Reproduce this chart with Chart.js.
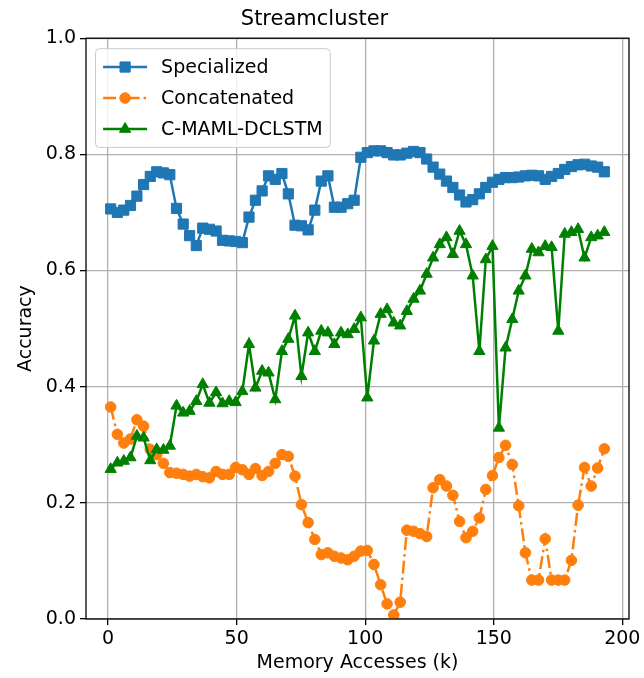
<!DOCTYPE html>
<html><head><meta charset="utf-8">
<script src="https://cdn.jsdelivr.net/npm/chart.js@4.4.0/dist/chart.umd.min.js"></script>
<style>html,body{margin:0;padding:0;background:#fff}#wrap{width:644px;height:678px}</style>
</head><body><div id="wrap"><canvas id="c" width="644" height="678"></canvas></div>
<script>
// ---- data ----
const xValues = [1.0,3.6,6.1,8.7,11.2,13.8,16.4,18.9,21.5,24.0,26.6,29.2,31.7,34.3,36.8,39.4,42.0,44.5,47.1,49.6,
  52.2,54.8,57.3,59.9,62.4,65.0,67.6,70.1,72.7,75.2,77.8,80.4,82.9,85.5,88.0,90.6,93.2,95.7,98.3,100.8,
  103.4,106.0,108.5,111.1,113.6,116.2,118.8,121.3,123.9,126.4,129.0,131.6,134.1,136.7,139.2,141.8,144.4,146.9,149.5,152.0,
  154.6,157.2,159.7,162.3,164.8,167.4,170.0,172.5,175.1,177.6,180.2,182.8,185.3,187.9,190.4,193.0];
const specialized = [0.706,0.700,0.704,0.712,0.728,0.748,0.762,0.770,0.768,0.765,
  0.707,0.680,0.660,0.643,0.673,0.671,0.668,0.652,0.651,0.650,
  0.648,0.692,0.721,0.737,0.763,0.757,0.767,0.732,0.678,0.677,
  0.670,0.704,0.754,0.763,0.709,0.709,0.715,0.721,0.795,0.803,
  0.806,0.806,0.803,0.799,0.799,0.802,0.805,0.803,0.792,0.778,
  0.766,0.754,0.743,0.730,0.718,0.722,0.732,0.743,0.752,0.757,
  0.760,0.760,0.761,0.763,0.764,0.763,0.757,0.762,0.767,0.774,
  0.779,0.782,0.783,0.780,0.778,0.770];
const concatenated = [0.365,0.318,0.303,0.310,0.343,0.332,0.292,0.283,0.268,0.252,
  0.251,0.249,0.246,0.249,0.245,0.243,0.254,0.249,0.249,0.261,
  0.257,0.249,0.259,0.247,0.254,0.268,0.283,0.280,0.246,0.197,
  0.166,0.137,0.111,0.114,0.108,0.105,0.102,0.108,0.117,0.118,
  0.094,0.059,0.026,0.007,0.029,0.153,0.151,0.147,0.142,0.226,
  0.240,0.229,0.213,0.168,0.140,0.151,0.174,0.223,0.247,0.278,
  0.299,0.266,0.195,0.114,0.067,0.067,0.138,0.067,0.067,0.067,
  0.101,0.196,0.261,0.229,0.260,0.293];
const cmamlDclstm = [0.258,0.269,0.272,0.278,0.315,0.312,0.273,0.292,0.291,0.298,
  0.367,0.355,0.358,0.375,0.404,0.372,0.390,0.371,0.375,0.373,
  0.392,0.473,0.398,0.427,0.424,0.378,0.461,0.482,0.522,0.418,
  0.493,0.461,0.496,0.493,0.473,0.493,0.490,0.499,0.519,0.381,
  0.479,0.525,0.533,0.510,0.505,0.530,0.551,0.565,0.594,0.622,
  0.645,0.657,0.628,0.668,0.645,0.591,0.461,0.619,0.642,0.329,
  0.467,0.516,0.565,0.591,0.637,0.631,0.642,0.640,0.496,0.663,
  0.666,0.671,0.622,0.657,0.660,0.666];
const seriesNames = ['Specialized','Concatenated','C-MAML-DCLSTM'];
const xTicks = [0,50,100,150,200];
const yTicks = [0.0,0.2,0.4,0.6,0.8,1.0];
const titleText = 'Streamcluster';
const xLabel = 'Memory Accesses (k)';
const yLabel = 'Accuracy';

// ---- rendering ----
const FONT = 'DejaVu Sans';
Chart.defaults.font.family = FONT;
Chart.defaults.color = '#000';
const toPts = ys => ys.map((y,i)=>({x:xValues[i], y:y}));

const framePlugin = {
  id:'frame',
  afterDatasetsDraw(chart){
    const a = chart.chartArea, ctx = chart.ctx;
    ctx.save();
    ctx.strokeStyle = '#000'; ctx.lineWidth = 1.3;
    ctx.strokeRect(a.left, a.top, a.right - a.left, a.bottom - a.top);
    ctx.restore();
  }
};
const legendPlugin = {
  id:'mplLegend',
  afterDatasetsDraw(chart){
    const ctx = chart.ctx, a = chart.chartArea;
    const fs = 19;
    ctx.save();
    ctx.font = fs + 'px "' + FONT + '"';
    const ds = chart.data.datasets;
    const pad = 0.4*fs, handle = 44, tpad = 14, rowH = 21.5, spacing = 0.5*fs;
    const maxW = Math.max(...ds.map(d => ctx.measureText(d.label).width));
    const x0 = a.left + 0.5*fs, y0 = a.top + 0.5*fs + 1;
    const w = pad*2 + handle + tpad + maxW;
    const h = pad*2 + ds.length*rowH + (ds.length-1)*spacing;
    ctx.beginPath();
    if (ctx.roundRect) ctx.roundRect(x0, y0, w, h, 4); else ctx.rect(x0, y0, w, h);
    ctx.fillStyle = 'rgba(255,255,255,0.8)'; ctx.fill();
    ctx.strokeStyle = '#cccccc'; ctx.lineWidth = 1; ctx.stroke();
    ds.forEach((d,i) => {
      const cy = y0 + pad + rowH/2 + i*(rowH + spacing);
      const lx = x0 + pad;
      ctx.save();
      ctx.strokeStyle = d.borderColor; ctx.lineWidth = d.borderWidth;
      ctx.setLineDash(d.borderDash || []);
      ctx.beginPath(); ctx.moveTo(lx, cy); ctx.lineTo(lx + handle, cy); ctx.stroke();
      ctx.setLineDash([]);
      ctx.fillStyle = d.backgroundColor; ctx.strokeStyle = d.borderColor; ctx.lineWidth = d.pointBorderWidth;
      Chart.helpers.drawPoint(ctx, {pointStyle:d.pointStyle, radius:d.pointRadius, rotation:0, borderWidth:d.pointBorderWidth}, lx + handle/2, cy);
      ctx.restore();
      ctx.fillStyle = '#000'; ctx.textBaseline = 'middle'; ctx.textAlign = 'left';
      ctx.fillText(d.label, lx + handle + tpad, cy + 1);
    });
    ctx.restore();
  }
};

new Chart(document.getElementById('c'), {
  type:'line',
  data:{datasets:[
    {label:seriesNames[0], data:toPts(specialized), borderColor:'#1f77b4', backgroundColor:'#1f77b4',
     pointStyle:'rect', pointRadius:7.2, pointBorderWidth:1, borderWidth:2.5, order:2},
    {label:seriesNames[1], data:toPts(concatenated), borderColor:'#ff7f0e', backgroundColor:'#ff7f0e',
     pointStyle:'circle', pointRadius:5.3, pointBorderWidth:1, borderWidth:2.5, borderDash:[13,4,2.5,4], order:1},
    {label:seriesNames[2], data:toPts(cmamlDclstm), borderColor:'#008000', backgroundColor:'#008000',
     pointStyle:'triangle', pointRadius:6.5, pointBorderWidth:1, borderWidth:2.5, order:0}
  ]},
  options:{
    responsive:false, animation:false, devicePixelRatio:1,
    layout:{padding:{left:0, right:15, top:0, bottom:0}},
    plugins:{
      legend:{display:false}, tooltip:{enabled:false},
      title:{display:true, text:titleText, color:'#000', font:{size:21, weight:'normal'}, padding:{top:7, bottom:6}}
    },
    scales:{
      x:{type:'linear', min:-8.6, max:202.6,
        afterBuildTicks: ax => { ax.ticks = xTicks.map(v => ({value:v})); },
        afterFit: ax => { ax.height = 59; },
        grid:{color:'#b0b0b0', lineWidth:1.3, tickColor:'#000', tickLength:6, tickWidth:1.3},
        border:{display:false},
        ticks:{font:{size:19}, color:'#000', padding:3, maxRotation:0, callback: v => String(v)},
        title:{display:true, text:xLabel, color:'#000', font:{size:19}, padding:{top:4, bottom:4}}
      },
      y:{type:'linear', min:0, max:1,
        afterBuildTicks: ax => { ax.ticks = yTicks.map(v => ({value:v})); },
        afterFit: ax => { ax.width = 86; },
        grid:{color:'#b0b0b0', lineWidth:1.3, tickColor:'#000', tickLength:6, tickWidth:1.3},
        border:{display:false},
        ticks:{font:{size:19}, color:'#000', padding:4, callback: v => Number(v).toFixed(1)},
        title:{display:true, text:yLabel, color:'#000', font:{size:19}, padding:{top:15, bottom:0}}
      }
    }
  },
  plugins:[framePlugin, legendPlugin]
});
</script>
</body></html>
